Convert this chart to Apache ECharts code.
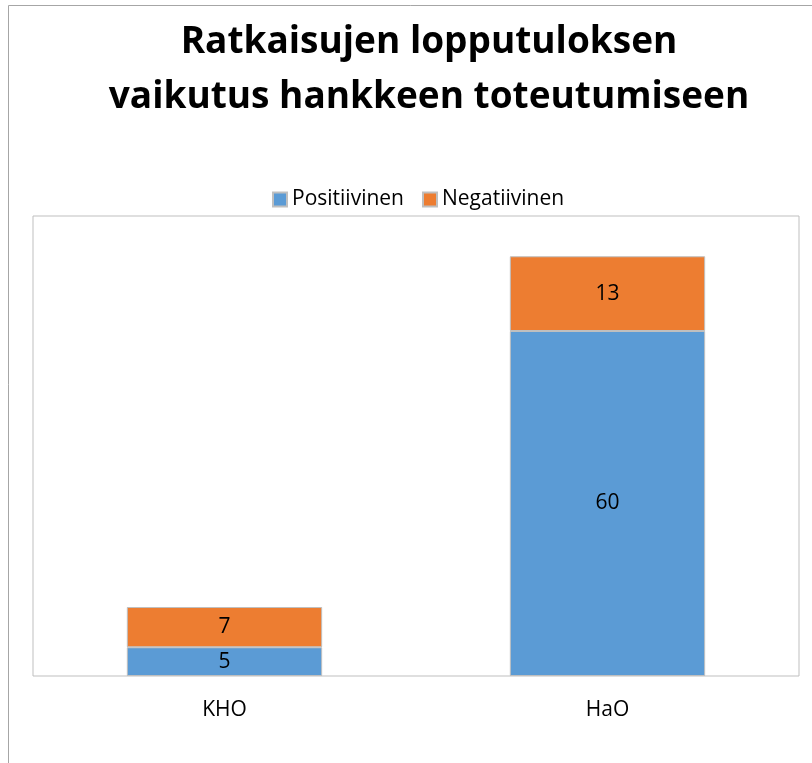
<!DOCTYPE html>
<html>
<head>
<meta charset="utf-8">
<script src="https://cdn.jsdelivr.net/npm/echarts@6/dist/echarts.min.js"></script>
<style>
html,body{margin:0;padding:0;background:#fff;}
#chart{width:812px;height:763px;}
</style>
</head>
<body>
<div id="chart"></div>
<script>
const titleText = 'Ratkaisujen lopputuloksen\nvaikutus hankkeen toteutumiseen';
const categories = ['KHO', 'HaO'];
const seriesNames = ['Positiivinen', 'Negatiivinen'];
const positiveValues = [5, 60];
const negativeValues = [7, 13];
const colors = ['#5B9BD5', '#ED7D31'];

const FONT = "'Open Sans', 'Noto Sans', sans-serif";
const chart = echarts.init(document.getElementById('chart'));
const labelStyle = {
  show: true,
  position: 'inside',
  color: '#000',
  fontFamily: FONT,
  fontSize: 21
};
chart.setOption({
  animation: false,
  backgroundColor: '#fff',
  graphic: [{
    type: 'rect',
    shape: {x: 8.5, y: 5.5, width: 1000, height: 1000},
    style: {fill: 'none', stroke: '#a6a6a6', lineWidth: 1},
    silent: true,
    z: -10
  }],
  title: {
    text: titleText,
    left: 424,
    top: 10,
    textAlign: 'center',
    textStyle: {
      fontFamily: FONT,
      fontWeight: 'bold',
      fontSize: 37,
      lineHeight: 55,
      color: '#000'
    }
  },
  legend: {
    data: seriesNames,
    left: 267,
    top: 184,
    itemWidth: 14,
    itemHeight: 14,
    itemGap: 18,
    icon: 'rect',
    textStyle: {fontFamily: FONT, fontSize: 21, color: '#000'}
  },
  grid: {
    left: 33,
    right: 13,
    top: 216,
    bottom: 87,
    show: true,
    borderColor: '#bfbfbf',
    borderWidth: 1,
    containLabel: false
  },
  xAxis: {
    type: 'category',
    data: categories,
    axisLine: {show: false},
    axisTick: {show: false},
    axisLabel: {fontFamily: FONT, fontSize: 21, color: '#000', margin: 24}
  },
  yAxis: {
    type: 'value',
    min: 0,
    max: 80,
    show: false,
    splitLine: {show: false}
  },
  series: [
    {
      name: seriesNames[0],
      type: 'bar',
      stack: 'total',
      barWidth: '51%',
      data: positiveValues,
      itemStyle: {color: colors[0], borderColor: '#bfbfbf', borderWidth: 1},
      label: labelStyle
    },
    {
      name: seriesNames[1],
      type: 'bar',
      stack: 'total',
      barWidth: '51%',
      data: negativeValues,
      itemStyle: {color: colors[1], borderColor: '#bfbfbf', borderWidth: 1},
      label: labelStyle
    }
  ]
});
</script>
</body>
</html>
